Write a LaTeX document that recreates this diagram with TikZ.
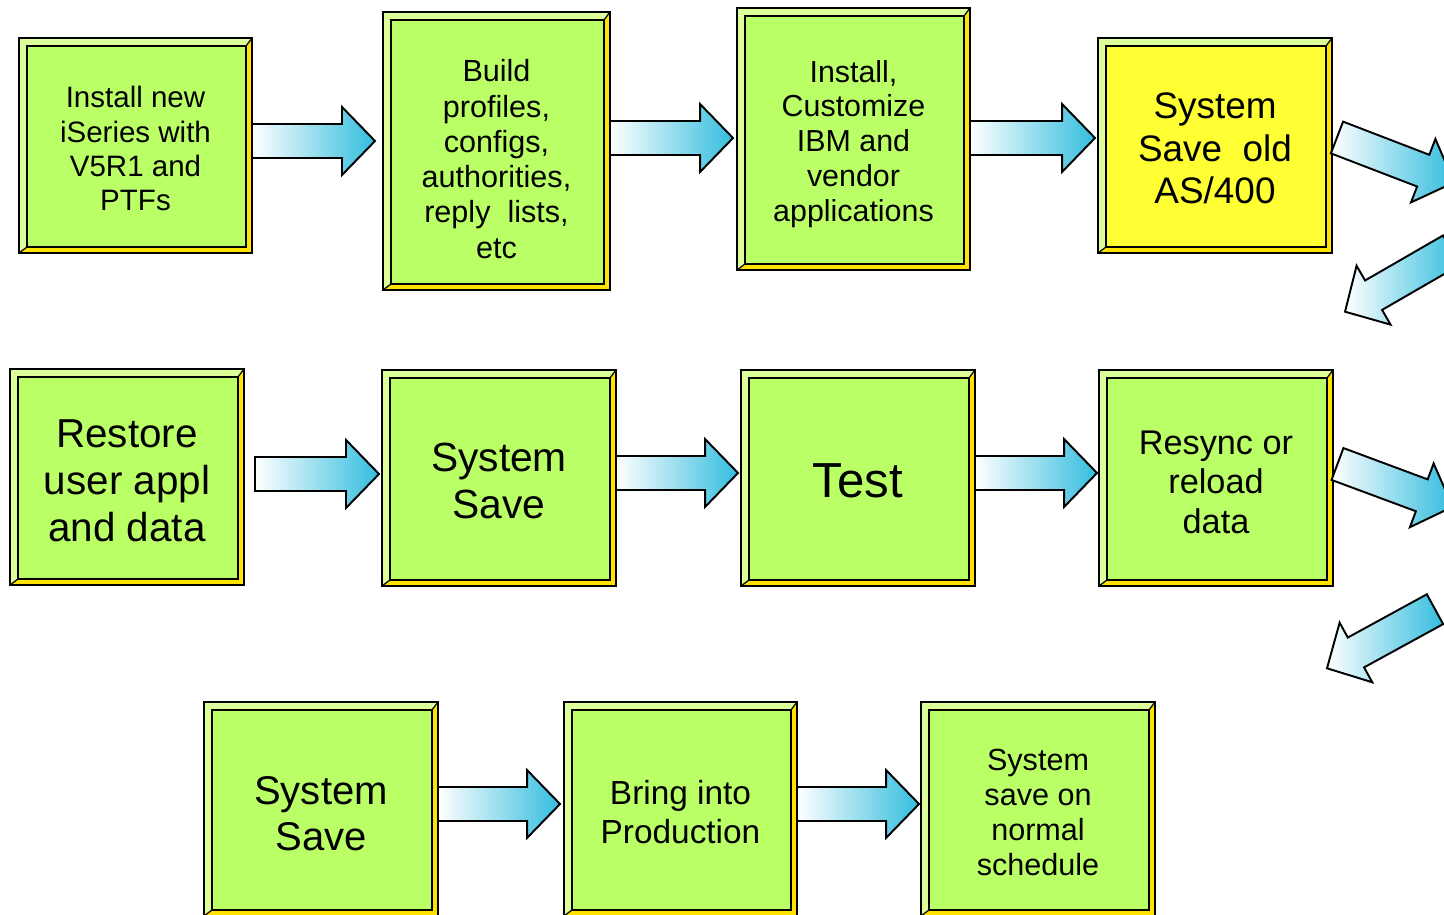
\documentclass[tikz,border=0pt]{standalone}
\usepackage{fontspec}
\setmainfont{Liberation Sans}
\usetikzlibrary{calc}

\definecolor{boxgreen}{RGB}{187,255,102}
\definecolor{boxyellow}{RGB}{255,255,51}
\definecolor{bevlight}{RGB}{221,255,153}
\definecolor{bevdark}{RGB}{255,226,0}
\definecolor{flowcyan}{RGB}{51,189,222}

% pushes the first line of a box text down
\newcommand\droptext[1]{\rule{0pt}{\dimexpr 0.73em+#1\relax}}

% block arrow from tail #1 to tip #2
\newcommand\flowarrow[2]{%
  \coordinate (f_s) at (#1);
  \coordinate (f_t) at (#2);
  \shade[flow] ($(f_s)!0.34cm!90:(f_t)$)
    -- ($(f_t)!0.66cm!(f_s)!0.34cm!90:(f_t)$)
    -- ($(f_t)!0.66cm!(f_s)!0.68cm!90:(f_t)$)
    -- (f_t)
    -- ($(f_t)!0.66cm!(f_s)!0.68cm!-90:(f_t)$)
    -- ($(f_t)!0.66cm!(f_s)!0.34cm!-90:(f_t)$)
    -- ($(f_s)!0.34cm!-90:(f_t)$) -- cycle;}

\begin{document}
\begin{tikzpicture}[x=0.02cm,y=-0.02cm,
    box/.style={draw, line width=0.9pt, fill=bevlight, inner sep=0pt, outer sep=0pt,
      minimum width=4.68cm, minimum height=4.32cm, align=center,
      path picture={
        \fill[bevdark] (path picture bounding box.south west)
          -- (path picture bounding box.south east)
          -- (path picture bounding box.north east)
          -- ([shift={(-0.12cm,-0.16cm)}]path picture bounding box.north east)
          -- ([shift={(-0.12cm,0.12cm)}]path picture bounding box.south east)
          -- ([shift={(0.16cm,0.12cm)}]path picture bounding box.south west) -- cycle;
        \draw[line width=1.3pt, fill=#1]
          ([shift={(0.16cm,0.12cm)}]path picture bounding box.south west) rectangle
          ([shift={(-0.12cm,-0.16cm)}]path picture bounding box.north east);
        \draw[line width=0.7pt]
          (path picture bounding box.south west) -- ([shift={(0.16cm,0.12cm)}]path picture bounding box.south west)
          (path picture bounding box.north east) -- ([shift={(-0.12cm,-0.16cm)}]path picture bounding box.north east);
      }},
    box/.default=boxgreen,
    flow/.style={draw=black, line width=1.1pt, line join=miter, left color=white, right color=flowcyan}]

    \path[use as bounding box, fill=white] (0,0) rectangle (1444,915);
    \clip (0,0) rectangle (1444,915);

    % first row
    \node[box, minimum width=4.66cm, minimum height=4.3cm, font=\fontsize{16.8}{19.4}\selectfont]
        (s_1) at (135.5,145.5) {\droptext{3.4pt}Install new\\iSeries with\\V5R1 and\\PTFs};
    \node[box, minimum width=4.54cm, minimum height=5.56cm, font=\fontsize{17.4}{20.1}\selectfont]
        (s_2) at (496.5,151) {\droptext{9.1pt}Build\\profiles,\\configs,\\authorities,\\reply\ \ lists,\\etc};
    \node[box, minimum width=4.66cm, minimum height=5.24cm, font=\fontsize{17.3}{19.9}\selectfont]
        (s_3) at (853.5,139) {\droptext{5.7pt}Install,\\Customize\\IBM and\\vendor\\applications};
    \node[box=boxyellow, minimum height=4.3cm, font=\fontsize{21}{24.2}\selectfont]
        (s_4) at (1215,145.5) {\droptext{2.8pt}System\\Save\ \ old\\AS/400};

    % second row
    \node[box, font=\fontsize{23}{26.5}\selectfont] (s_5) at (127,477) {\droptext{3.4pt}Restore\\user appl\\and data};
    \node[box, font=\fontsize{23.2}{26.7}\selectfont] (s_6) at (499,478) {\droptext{2.8pt}System\\Save};
    \node[box, font=\fontsize{28}{32}\selectfont] (s_7) at (858,478) {\droptext{2.5pt}Test};
    \node[box, font=\fontsize{19.5}{22.5}\selectfont] (s_8) at (1216,478) {\droptext{4pt}Resync or\\reload\\data};

    % third row
    \node[box, minimum height=4.28cm, font=\fontsize{22.8}{26.2}\selectfont]
        (s_9) at (321,809) {\droptext{4.6pt}System\\Save};
    \node[box, minimum width=4.66cm, minimum height=4.28cm, font=\fontsize{19}{21.9}\selectfont]
        (s_10) at (680.5,809) {\droptext{3.4pt}Bring into\\Production};
    \node[box, minimum height=4.28cm, font=\fontsize{17.4}{20.1}\selectfont]
        (s_11) at (1038,809) {\droptext{3.4pt}System\\save on\\normal\\schedule};

    % free ends of the wrap arrows
    \coordinate (o_1) at (1454,182.5);
    \coordinate (o_2) at (1451.5,250.2);
    \coordinate (o_3) at (1345,311.7);
    \coordinate (o_4) at (1452.7,506.8);
    \coordinate (o_5) at (1435,609.2);
    \coordinate (o_6) at (1327,668.3);

    \flowarrow{s_1.east |- 0,141}{$(s_2.west |- 0,141)+(-8,0)$}
    \flowarrow{s_2.east |- 0,138}{$(s_3.west |- 0,138)+(-4,0)$}
    \flowarrow{s_3.east |- 0,138}{$(s_4.west |- 0,138)+(-3,0)$}
    \flowarrow{$(s_4.east)+(5,-8)$}{o_1}
    \flowarrow{o_2}{o_3}

    \flowarrow{$(s_5.east |- 0,474)+(11,0)$}{$(s_6.west |- 0,474)+(-3,0)$}
    \flowarrow{s_6.east |- 0,473}{$(s_7.west |- 0,473)+(-3,0)$}
    \flowarrow{s_7.east |- 0,473}{$(s_8.west |- 0,473)+(-2,0)$}
    \flowarrow{$(s_8.east)+(4.5,-14)$}{o_4}
    \flowarrow{o_5}{o_6}

    \flowarrow{s_9.east |- 0,804}{$(s_10.west |- 0,804)+(-4,0)$}
    \flowarrow{s_10.east |- 0,804}{$(s_11.west |- 0,804)+(-2,0)$}

\end{tikzpicture}
\end{document}
